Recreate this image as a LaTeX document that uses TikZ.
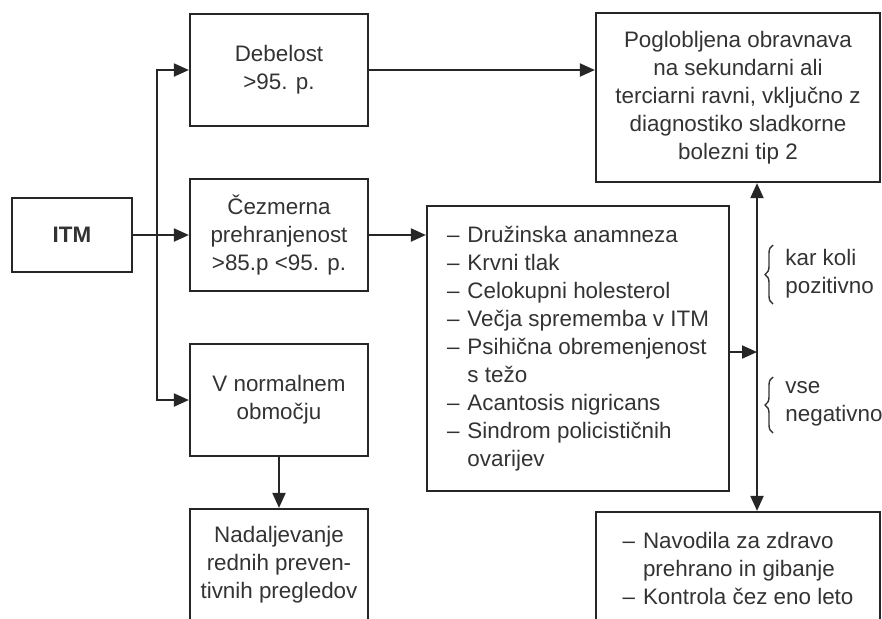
\documentclass[tikz,border=0pt]{standalone}
\usepackage{fontspec}
\setmainfont{Liberation Sans}
\usetikzlibrary{arrows.meta,decorations.pathreplacing}

\begin{document}
\begin{tikzpicture}
[x = 0.5pt, y = -0.5pt,
 ahead/.tip = {Triangle[length=7.5pt,width=6.5pt]},
 every node/.style = {font=\fontsize{11.2}{14}\selectfont, text=black!80},
 box/.style = {draw=black!85, line width=1.1pt, align=center, inner sep=0pt, minimum width=89pt, minimum height=56pt},
 line/.style = {draw=black!85, line width=1pt},
 arr/.style = {line, -ahead},
 brc/.style = {draw=black!80, line width=0.7pt, decorate, decoration={brace,amplitude=4pt}},
 lab/.style = {anchor=west, align=left, inner sep=0pt}
 ]
\useasboundingbox (0,0) rectangle (882,618);
\node [box, minimum width=60pt, minimum height=37pt] (itm) at (72,235) {\textbf{ITM}};
\node [box] (deb) at (279,70) {Debelost\\>95. p.};
\node [box] (cez) at (279,235) {Čezmerna\\prehranjenost\\>85.p <95. p.};
\node [box] (norm) at (279,400) {V normalnem\\območju};
\node [box] (nad) at (279,565) {Nadaljevanje\\rednih preven-\\tivnih pregledov};
\node [box, minimum width=142pt, minimum height=84.5pt] (pog) at (738,97.5)
  {Poglobljena obravnava\\na sekundarni ali\\terciarni ravni, vključno z\\diagnostiko sladkorne\\bolezni tip 2};
\node [box, minimum width=151pt, minimum height=142.5pt] (check) at (578,348.5)
  {\begin{tabular}{@{}l@{\hspace{4pt}}l@{}}
   – & Družinska anamneza\\
   – & Krvni tlak\\
   – & Celokupni holesterol\\
   – & Večja sprememba v ITM\\
   – & Psihična obremenjenost\\
     & s težo\\
   – & Acantosis nigricans\\
   – & Sindrom policističnih\\
     & ovarijev
   \end{tabular}};
\node [box, minimum width=142pt, minimum height=59pt] (low) at (738,571)
  {\begin{tabular}{@{}l@{\hspace{4pt}}l@{}}
   – & Navodila za zdravo\\
     & prehrano in gibanje\\
   – & Kontrola čez eno leto
   \end{tabular}};
\coordinate (split) at (157,235);
\coordinate (vx) at (757,352);
\draw [arr] (itm) -- (cez);
\draw [arr] (split) |- (deb.west);
\draw [arr] (split) |- (norm.west);
\draw [arr] (deb.east) -- (deb.east -| pog.west);
\draw [arr] (cez.east) -- (cez.east -| check.west);
\draw [arr] (norm) -- (nad);
\draw [arr] (check.east |- vx) -- (vx);
\draw [line, ahead-ahead] (pog.south -| vx) -- (low.north -| vx);
\draw [brc] (773,304) -- (773,245);
\draw [brc] (773,433) -- (773,377);
\node [lab] (pos) at (785,274) {kar koli\\pozitivno};
\node [lab] (neg) at (785,404) {vse\\negativno};
\end{tikzpicture}
\end{document}
